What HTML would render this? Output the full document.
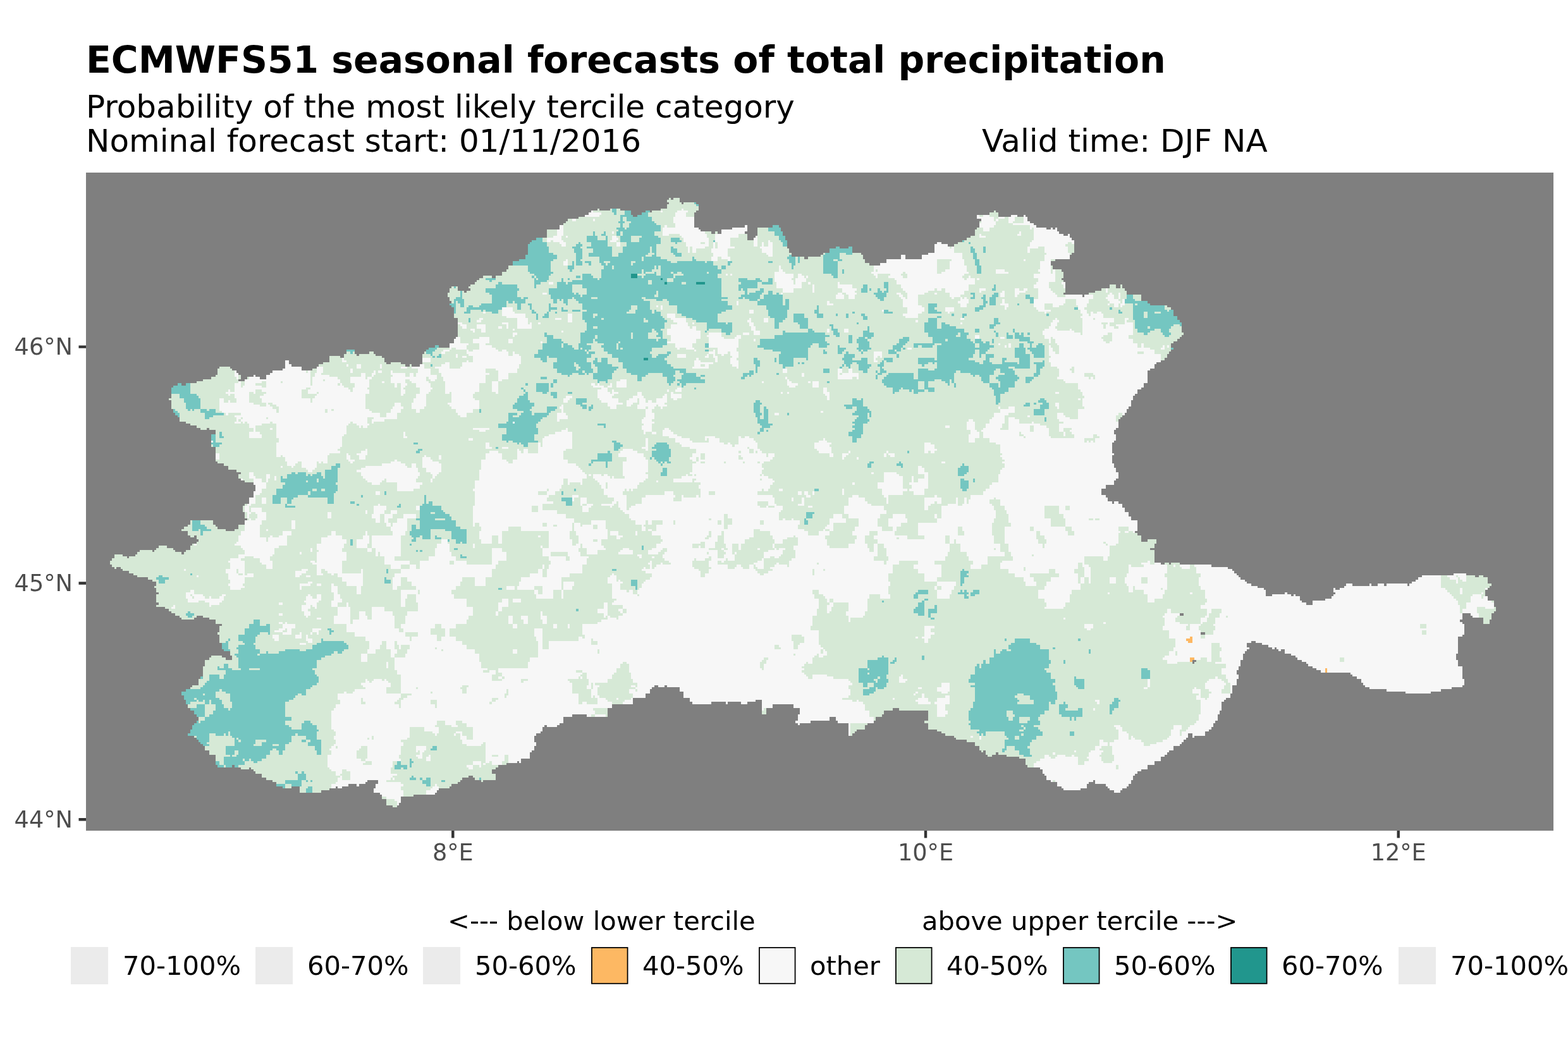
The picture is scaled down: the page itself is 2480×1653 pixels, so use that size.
<!DOCTYPE html>
<html lang="en">
<head>
<meta charset="utf-8">
<title>ECMWFS51 seasonal forecasts of total precipitation</title>
<style>
html,body{margin:0;padding:0;background:#fff;}
body{width:2480px;height:1653px;overflow:hidden;}
svg{display:block;}
text{font-family:"DejaVu Sans","Liberation Sans",sans-serif;}
.title{font-weight:bold;font-size:58.33px;fill:#000;}
.sub{font-size:50px;fill:#000;white-space:pre;}
.ax{font-size:36.67px;fill:#4d4d4d;}
.lg{font-size:41.67px;fill:#000;}
.lt{font-size:41.67px;fill:#000;}
.tick{stroke:#333;stroke-width:4.45;fill:none;}
.key{stroke:#000;stroke-width:1.78;}
</style>
</head>
<body>
<svg xmlns="http://www.w3.org/2000/svg" width="2480" height="1653" viewBox="0 0 2480 1653">
<rect x="0" y="0" width="2480" height="1653" fill="#ffffff"/>
<text class="title" x="136" y="115.3">ECMWFS51 seasonal forecasts of total precipitation</text>
<text class="sub" x="136" y="186">Probability of the most likely tercile category</text>
<text class="sub" x="136" y="240">Nominal forecast start: 01/11/2016</text>
<text class="sub" x="1553" y="240">Valid time: DJF NA</text>
<rect x="136" y="273" width="2321" height="1041" fill="#7f7f7f"/>
<g shape-rendering="crispEdges" fill-rule="evenodd">
<path fill="#d6e9d6" d="M538 563H521V573H511V576H504V580H501V583H494V586H477V580H461V576H457V570H451V583H447V586H431V590H427V593H421V600H411V596H404V593H401V596H391V600H387V603H377V600H381V593H377V590H374V586H367V583H364V580H347V583H344V593H341V596H334V600H321V603H311V606H294V610H287V606H281V610H274V613H271V630H267V633H271V647H274V653H277V657H281V660H284V667H294V670H301V673H311V677H317V680H327V677H331V680H341V687H334V707H341V730H344V733H354V737H361V743H374V747H381V750H377V757H381V760H387V763H401V767H404V777H401V787H394V797H387V800H384V810H387V820H391V823H387V830H377V837H371V840H357V837H344V833H341V830H337V823H301V830H297V833H291V837H287V840H297V847H301V850H307V847H311V853H314V857H311V860H304V863H301V870H294V873H291V877H287V873H277V870H274V867H264V863H251V867H247V870H244V873H241V870H221V873H217V877H214V880H204V883H201V880H194V877H181V883H177V887H174V893H177V897H181V900H184V897H191V900H194V903H204V907H211V910H217V913H234V917H241V920H247V927H244V930H247V937H251V940H247V953H251V957H247V960H261V963H267V967H271V970H277V974H284V977H287V980H307V977H311V974H321V977H331V980H341V987H351V990H347V1000H344V1004H347V1017H351V1027H354V1030H364V1037H367V1044H357V1040H351V1037H334V1040H331V1044H324V1054H321V1070H317V1074H314V1084H304V1087H301V1090H294V1094H287V1100H291V1107H294V1114H297V1120H301V1124H307V1130H311V1134H314V1140H311V1144H307V1147H304V1154H301V1160H297V1164H307V1167H311V1170H314V1174H317V1177H321V1180H324V1187H331V1194H341V1210H344V1214H367V1210H371V1214H381V1217H394V1214H397V1217H401V1220H404V1224H414V1230H421V1234H431V1237H437V1244H447V1247H461V1244H474V1254H508V1250H521V1247H531V1244H534V1247H541V1244H551V1240H564V1244H568V1240H578V1237H581V1234H598V1240H594V1247H591V1254H601V1257H604V1264H611V1274H621V1277H628V1274H631V1270H634V1260H654V1257H688V1254H691V1250H694V1247H711V1244H714V1240H724V1237H728V1234H731V1230H741V1227H748V1230H751V1234H761V1237H764V1234H784V1224H778V1217H784V1214H788V1210H801V1207H818V1204H821V1207H824V1200H838V1190H841V1187H845V1180H848V1174H845V1164H848V1160H855V1157H858V1150H861V1147H865V1150H881V1147H885V1144H891V1134H905V1130H928V1134H961V1120H968V1114H1001V1104H1021V1097H1028V1090H1031V1087H1035V1084H1041V1087H1051V1084H1055V1087H1075V1094H1081V1104H1091V1110H1095V1114H1125V1110H1148V1114H1151V1110H1172V1114H1182V1110H1195V1107H1205V1130H1212V1120H1222V1114H1255V1120H1265V1130H1262V1140H1258V1144H1262V1147H1265V1144H1282V1140H1312V1134H1322V1140H1325V1144H1342V1164H1348V1160H1352V1157H1355V1154H1368V1147H1372V1144H1382V1140H1385V1134H1395V1130H1398V1124H1412V1120H1422V1124H1468V1140H1462V1144H1468V1154H1482V1157H1489V1160H1495V1164H1509V1167H1512V1170H1529V1174H1542V1180H1549V1187H1552V1190H1555V1187H1559V1194H1562V1197H1569V1194H1575V1190H1579V1194H1592V1197H1612V1200H1622V1210H1625V1214H1645V1217H1649V1224H1652V1227H1655V1234H1662V1237H1672V1244H1679V1247H1682V1250H1709V1247H1719V1240H1722V1237H1729V1234H1732V1240H1749V1244H1752V1247H1755V1250H1762V1254H1772V1250H1775V1247H1782V1244H1785V1240H1789V1234H1792V1227H1795V1224H1799V1220H1805V1217H1815V1210H1826V1204H1836V1197H1842V1194H1846V1190H1849V1187H1856V1180H1866V1177H1869V1174H1872V1170H1876V1167H1879V1160H1886V1167H1889V1164H1906V1157H1912V1154H1916V1150H1919V1144H1922V1140H1926V1130H1929V1124H1932V1110H1936V1107H1939V1104H1946V1097H1949V1084H1956V1074H1959V1067H1956V1060H1959V1054H1962V1044H1966V1034H1969V1030H1972V1027H1976V1024H1972V1017H1979V1014H1986V1017H1996V1020H2006V1024H2012V1027H2016V1024H2019V1027H2022V1030H2026V1027H2032V1034H2042V1037H2049V1040H2052V1044H2059V1047H2066V1050H2069V1054H2076V1057H2082V1060H2089V1064H2136V1067H2139V1070H2146V1074H2153V1080H2156V1084H2159V1087H2166V1090H2193V1094H2223V1097H2263V1094H2279V1090H2296V1087H2313V1084H2316V1074H2313V1054H2306V1044H2303V1034H2306V1007H2313V1004H2316V987H2313V984H2309V980H2313V970H2326V974H2329V977H2346V987H2356V980H2359V970H2363V967H2366V960H2363V950H2353V943H2349V933H2353V930H2356V927H2359V923H2353V913H2346V910H2339V913H2333V910H2319V907H2299V910H2249V913H2243V917H2239V920H2233V923H2229V927H2226V923H2193V927H2189V923H2179V927H2169V923H2166V927H2139V923H2129V927H2126V930H2119V933H2112V930H2109V937H2112V940H2109V943H2106V947H2096V950H2076V957H2066V953H2059V950H2056V943H2049V940H2046V943H2042V940H2036V937H2032V940H2012V943H2002V933H1999V930H1989V927H1979V923H1972V920H1969V917H1962V913H1959V910H1956V907H1952V903H1949V900H1942V897H1916V893H1866V890H1852V893H1849V890H1842V893H1836V890H1826V870H1819V867H1826V860H1829V853H1815V857H1805V847H1799V843H1795V840H1799V823H1789V817H1785V810H1779V803H1775V797H1769V793H1762V797H1759V793H1752V787H1749V783H1742V773H1749V767H1762V760H1765V757H1769V747H1765V740H1762V733H1759V720H1762V717H1759V700H1762V697H1765V687H1762V680H1765V677H1769V663H1772V660H1775V657H1779V653H1782V647H1785V643H1789V633H1792V626H1795V623H1799V616H1805V613H1809V606H1815V586H1819V583H1826V576H1829V573H1836V570H1842V566H1846V560H1849V556H1852V553H1856V550H1852V543H1856V540H1862V536H1866V533H1869V530H1872V526H1869V510H1866V506H1862V500H1856V490H1852V486H1846V483H1819V480H1815V476H1805V466H1782V460H1779V456H1775V450H1772V456H1765V450H1755V456H1742V460H1732V463H1722V466H1715V470H1712V466H1682V463H1685V446H1682V443H1679V440H1682V430H1679V426H1665V420H1662V413H1669V410H1692V403H1695V400H1699V380H1695V376H1692V370H1689V373H1682V370H1675V366H1672V360H1669V363H1665V360H1662V363H1655V360H1639V356H1635V353H1629V350H1625V343H1622V340H1619V343H1609V340H1599V343H1579V336H1575V333H1572V336H1565V340H1545V346H1552V350H1549V360H1545V363H1542V373H1535V376H1529V380H1522V383H1515V386H1509V390H1499V386H1489V383H1482V386H1478V400H1468V403H1458V410H1432V403H1425V410H1402V416H1392V420H1375V416H1368V410H1365V403H1362V400H1348V390H1342V393H1328V390H1322V393H1312V400H1302V403H1298V406H1278V410H1272V406H1252V400H1248V393H1245V380H1242V373H1238V366H1235V360H1232V356H1222V360H1198V373H1195V376H1192V380H1182V370H1178V366H1182V356H1178V360H1158V363H1141V370H1135V366H1131V370H1125V366H1108V363H1105V360H1098V336H1101V333H1105V323H1101V320H1081V323H1078V320H1075V313H1065V316H1061V313H1058V316H1055V320H1058V323H1055V330H1045V333H1031V336H1028V333H1021V336H1015V340H1008V343H1001V340H998V333H981V330H965V333H948V330H945V333H935V336H931V340H925V343H915V346H898V350H895V353H891V356H885V363H865V376H848V380H841V383H838V386H835V403H831V410H821V413H811V420H804V426H801V430H794V436H784V440H778V436H764V440H758V443H754V446H751V450H744V453H741V456H744V460H738V463H734V460H724V453H714V456H711V463H708V470H711V476H714V480H711V483H714V486H718V503H724V533H721V536H718V543H711V550H694V546H688V550H678V553H674V556H671V560H668V576H664V580H651V576H648V580H641V576H634V573H618V576H611V573H608V566H604V563H594V560H591V556H584V560H568V563H564V560H561V553H548V560H544V566H538ZM1866 970H1872V974H1866ZM1886 1050V1044H1892V1047H1889V1050ZM1899 1000H1906V1004H1899Z"/>
<path fill="#f7f7f7" d="M451 570V583H447V586H431V590H427V593H421V600H411V596H404V593H401V596H394V600H387V610H384V613H381V603H377V606H371V620H364V616H361V620H357V623H361V626H364V623H371V630H374V637H364V633H361V637H354V630H347V650H351V653H357V657H361V653H381V657H371V660H374V667H371V670H381V667H384V670H387V667H391V670H394V677H401V683H394V693H414V687H411V683H404V673H414V670H427V667H431V670H437V693H441V700H437V723H444V720H447V723H451V730H454V737H461V740H464V737H467V733H471V730H477V740H484V743H487V747H494V743H498V740H501V730H504V733H508V730H511V733H518V720H521V717H538V713H534V710H538V707H541V690H544V687H548V673H551V670H554V667H558V670H564V673H568V677H571V673H574V677H581V673H584V670H581V660H591V663H588V670H591V667H608V663H628V653H634V647H638V643H634V637H624V643H621V647H618V653H611V660H601V653H588V650H584V647H578V623H584V616H581V613H584V600H588V596H581V600H578V590H571V596H554V606H561V613H558V620H554V616H551V613H544V610H541V606H538V600H534V596H521V593H508V590H511V580H501V590H498V596H494V610H491V586H487V590H484V586H477V580H461V576H457V570ZM377 667V663H381V667ZM381 660H384V663H381ZM538 610H534V606H538ZM431 643H427V640H424V637H431V640H437V643H441V653H437V647H431ZM477 630V616H484V613H491V616H487V623H501V626H498V630H494V637H491V630ZM501 620H504V623H501ZM404 606H414V603H421V613H414V610H404ZM444 606V603H447V606ZM404 616H414V620H421V623H417V626H411V630H414V637H421V643H411V640H401V637H394V620H401V623H404ZM421 663V660H424V663ZM514 600V603H511V600ZM518 647V653H514V647ZM524 647H528V650H524ZM374 590V586H371V596H374V600H377V590ZM431 680V677H427V680ZM337 700V697H334V700ZM341 717V727H347V717ZM447 737H444V740H447ZM404 767V777H401V787H394V797H391V800H387V810H391V820H394V813H397V810H394V800H397V797H404V783H411V780H414V773H421V763H414V757H404V753H401V747H394V757H401V767ZM427 757V750H421V763H424V757ZM434 753V760H437V753ZM384 757H381V760H384ZM414 787V797H421V787ZM404 820V823H397V820H394V823H387V840H381V847H377V857H374V860H371V863H381V867H384V870H387V877H377V883H364V887H361V890H364V900H357V907H361V917H364V923H361V927H364V933H381V930H387V927H384V923H387V913H401V907H391V910H387V887H381V883H387V880H401V883H411V890H414V893H421V900H431V887H427V880H431V877H434V867H441V863H454V847H461V840H447V847H441V850H431V847H427V850H424V857H421V850H411V830H414V823H421V810H414V803H397V810H404V813H407V820ZM377 900V907H374V900ZM384 907V910H377V907ZM424 840V837H421V840ZM311 863V860H307V863ZM294 903V900H291V903ZM314 910H311V913H314ZM314 953V950H324V953H331V960H334V957H347V953H351V950H354V943H357V940H351V943H347V947H334V943H331V947H324V943H321V940H307V933H301V937H294V947H297V953ZM304 947V943H307V947ZM301 943V940H304V943ZM447 957V953H441V957ZM274 957V960H271V963H277V957ZM447 970H441V974H447ZM447 984H441V987H447ZM447 987V994H441V997H434V1000H447V1004H461V994H467V987H454V984H451V987ZM447 997H451V994H454V1000H447ZM431 1004V1010H434V1014H441V1004ZM541 573H548V570H544V566H541ZM524 820V810H518V820ZM467 837V823H461V837ZM501 860V870H504V873H501V890H498V887H491V890H494V893H501V910H511V907H508V900H514V903H518V907H524V910H528V907H534V913H541V920H548V927H564V940H571V927H574V900H571V907H541V887H548V873H541V867H544V860H548V853H541V847H531V840H524V847H518V850H508V860ZM494 873V867H491V873ZM477 873H474V877H477ZM477 910V907H484V903H487V900H477V903H467V913H474V910ZM491 910H484V913H491ZM477 927H491V923H494V920H487V923H474V933H477ZM508 923H501V927H508ZM528 950H524V960H534V953H541V947H538V940H534V927H528V923H524V937H528ZM484 943V950H481V953H484V957H477V967H481V974H484V977H487V974H491V967H487V963H491V957H494V960H498V963H501V953H504V950H508V940H501V947H494V943H491V940H487V943ZM534 960V974H528V987H548V1000H561V1007H578V1014H584V1027H581V1034H594V1027H601V1020H604V1014H611V1027H618V1040H624V1060H628V1067H634V1097H611V1087H618V1080H614V1077H611V1074H608V1077H604V1074H591V1077H588V1080H584V1077H581V1074H578V1080H571V1084H574V1087H578V1090H561V1094H558V1097H548V1094H544V1097H534V1107H538V1114H531V1120H528V1124H524V1154H528V1157H531V1164H528V1170H531V1177H528V1180H524V1184H521V1187H524V1194H518V1214H521V1217H524V1220H531V1227H538V1230H534V1237H531V1240H524V1247H531V1244H534V1247H541V1244H551V1240H564V1244H568V1240H578V1237H581V1234H598V1240H594V1247H591V1254H601V1257H604V1260H611V1264H624V1267H628V1274H631V1270H634V1260H638V1250H634V1244H638V1240H634V1237H611V1234H618V1230H621V1227H628V1224H618V1214H621V1204H634V1200H631V1194H634V1180H638V1174H634V1170H644V1167H648V1150H671V1157H684V1160H688V1164H691V1160H694V1150H688V1147H691V1140H704V1147H714V1150H724V1147H721V1140H731V1144H738V1150H748V1170H738V1164H731V1157H721V1160H728V1170H731V1177H738V1180H761V1177H764V1174H768V1207H774V1204H778V1210H794V1204H798V1194H804V1207H818V1204H821V1207H824V1200H838V1190H841V1187H845V1180H848V1174H845V1164H848V1160H855V1157H858V1150H861V1147H865V1150H881V1147H885V1144H891V1134H905V1130H928V1134H935V1130H941V1124H938V1120H968V1110H961V1107H958V1104H948V1100H945V1087H948V1084H941V1080H961V1074H968V1067H971V1064H975V1057H981V1050H985V1047H991V1050H995V1064H998V1074H1001V1080H1008V1087H1005V1090H995V1097H1001V1104H1021V1097H1028V1090H1031V1087H1035V1084H1041V1087H1051V1084H1055V1087H1075V1094H1081V1104H1091V1110H1095V1114H1125V1110H1148V1114H1151V1110H1172V1114H1182V1110H1195V1107H1205V1124H1208V1120H1222V1114H1255V1120H1265V1130H1262V1140H1258V1144H1262V1147H1265V1144H1282V1140H1312V1134H1322V1140H1325V1144H1342V1164H1345V1144H1382V1134H1375V1124H1368V1114H1365V1110H1358V1107H1355V1110H1348V1107H1332V1104H1342V1100H1345V1090H1342V1084H1348V1080H1345V1077H1342V1074H1318V1070H1308V1067H1285V1074H1278V1070H1275V1067H1272V1064H1268V1060H1272V1057H1268V1054H1272V1050H1275V1047H1278V1050H1285V1040H1288V1037H1292V1034H1295V1040H1302V1037H1308V1030H1305V1027H1302V1024H1298V1020H1295V997H1282V990H1285V974H1292V963H1295V947H1288V940H1285V933H1295V940H1302V943H1305V947H1308V953H1312V947H1318V953H1342V967H1338V974H1342V984H1345V977H1365V974H1368V967H1372V947H1375V940H1392V947H1408V940H1405V927H1408V920H1405V907H1412V893H1422V887H1452V893H1445V900H1452V907H1462V920H1482V913H1489V893H1478V887H1495V880H1499V873H1502V860H1509V853H1512V860H1519V873H1529V880H1532V887H1539V893H1535V900H1552V893H1562V880H1589V873H1582V860H1572V847H1569V827H1572V820H1575V807H1572V800H1569V797H1565V790H1572V787H1575V790H1582V800H1589V807H1592V813H1595V827H1599V833H1589V860H1595V873H1599V880H1602V887H1585V890H1582V900H1595V907H1605V913H1619V920H1622V927H1639V920H1635V913H1629V907H1659V900H1669V907H1675V913H1662V920H1655V927H1652V933H1642V947H1652V953H1655V960H1652V963H1682V960H1685V953H1692V940H1695V933H1709V923H1705V907H1699V900H1705V890H1712V897H1715V913H1722V923H1725V897H1722V893H1715V880H1745V887H1752V880H1755V863H1765V860H1769V843H1772V840H1769V833H1785V840H1792V843H1795V840H1799V823H1789V817H1785V810H1779V803H1775V797H1769V793H1762V797H1759V793H1752V787H1749V783H1742V773H1749V767H1762V760H1765V757H1769V747H1765V740H1762V733H1759V720H1762V717H1759V700H1762V697H1765V687H1762V680H1765V677H1769V667H1765V657H1769V653H1775V657H1779V653H1782V647H1785V643H1789V633H1792V626H1795V623H1799V616H1805V613H1809V606H1815V586H1819V583H1826V576H1829V573H1836V560H1826V553H1819V550H1809V543H1805V550H1799V543H1792V536H1785V530H1792V510H1782V506H1785V503H1779V513H1765V516H1769V520H1762V516H1755V510H1762V503H1745V496H1742V493H1735V496H1729V493H1725V500H1722V496H1719V490H1715V486H1719V480H1722V473H1729V466H1715V470H1712V466H1685V470H1672V466H1669V463H1665V460H1662V456H1659V446H1669V426H1665V433H1662V410H1692V400H1689V390H1685V386H1689V383H1695V386H1699V380H1695V376H1692V370H1689V373H1682V370H1675V366H1672V360H1669V363H1665V360H1662V363H1655V360H1639V356H1635V353H1629V350H1625V343H1622V340H1619V353H1602V356H1629V363H1632V360H1635V380H1632V383H1629V390H1625V400H1629V393H1642V390H1652V400H1655V403H1652V413H1645V426H1642V430H1645V433H1635V440H1642V446H1639V450H1635V456H1642V473H1635V486H1639V490H1642V493H1652V496H1655V493H1662V490H1652V480H1665V486H1675V483H1682V480H1685V473H1702V483H1705V490H1709V496H1712V500H1709V503H1712V530H1709V526H1699V523H1695V520H1692V523H1672V520H1669V516H1672V510H1675V506H1672V503H1669V506H1665V510H1662V516H1659V520H1652V523H1649V530H1652V536H1659V543H1662V533H1665V536H1669V543H1672V546H1675V560H1669V556H1665V550H1662V546H1659V563H1662V566H1659V573H1662V580H1672V583H1675V596H1672V600H1682V603H1685V606H1705V616H1709V620H1712V626H1715V630H1712V643H1715V647H1705V663H1692V660H1685V657H1682V653H1672V663H1675V667H1682V670H1675V683H1682V677H1695V680H1692V683H1695V687H1699V693H1662V690H1659V677H1655V673H1645V670H1635V667H1632V670H1612V663H1605V660H1595V680H1582V677H1585V670H1589V657H1595V653H1605V643H1595V647H1582V653H1572V660H1569V663H1565V670H1559V677H1555V680H1552V683H1555V693H1565V700H1575V703H1582V717H1585V720H1582V723H1585V727H1589V730H1585V733H1589V740H1585V743H1582V750H1579V763H1569V767H1565V773H1559V777H1555V783H1535V790H1532V797H1529V787H1525V797H1522V800H1515V787H1512V797H1499V800H1489V820H1482V827H1452V847H1462V853H1435V847H1415V840H1418V833H1425V827H1435V820H1432V813H1412V820H1405V833H1412V840H1395V833H1388V820H1392V813H1402V807H1398V800H1378V797H1372V793H1368V787H1358V783H1348V787H1342V800H1335V813H1342V820H1358V833H1352V840H1348V847H1355V853H1352V860H1342V867H1312V863H1308V853H1305V847H1312V840H1305V837H1302V840H1295V847H1278V840H1272V837H1262V830H1265V823H1255V820H1252V823H1242V820H1238V823H1232V810H1235V807H1238V800H1228V797H1225V787H1222V783H1198V777H1205V773H1208V777H1215V773H1218V767H1222V763H1225V760H1222V757H1215V753H1208V750H1205V743H1208V740H1205V733H1208V730H1218V727H1222V723H1225V717H1215V723H1212V717H1205V713H1202V710H1198V700H1195V697H1192V693H1185V690H1178V693H1172V690H1168V703H1162V707H1158V703H1155V700H1151V703H1145V700H1138V693H1131V690H1115V697H1118V693H1121V700H1095V697H1091V693H1078V690H1071V687H1065V683H1061V680H1058V677H1051V680H1048V690H1058V693H1068V700H1075V703H1078V707H1091V710H1101V717H1095V723H1091V727H1095V730H1101V733H1095V747H1091V750H1095V753H1088V750H1085V753H1078V757H1065V763H1095V757H1101V760H1098V763H1108V767H1105V773H1108V787H1105V783H1101V787H1081V783H1078V793H1065V787H1068V783H1065V777H1051V783H1021V787H1015V797H1005V800H998V803H995V807H991V783H985V777H988V773H991V777H995V773H998V777H1001V773H1008V767H1011V763H1018V760H1021V757H1025V750H1021V747H1025V727H1021V723H1018V717H1008V713H1001V710H985V713H981V717H978V723H991V730H985V753H988V757H971V753H968V757H965V753H961V750H955V753H951V750H938V757H941V760H945V763H948V767H951V773H955V783H961V787H971V793H968V797H951V800H965V803H968V800H971V797H975V793H978V803H981V807H985V810H988V813H995V820H998V823H1005V830H1015V840H1021V833H1018V830H1021V823H1025V830H1031V823H1048V830H1038V840H1031V847H1045V853H1048V857H1045V860H1038V867H1031V870H1025V877H1041V873H1045V870H1048V867H1055V873H1051V877H1048V883H1051V887H1058V890H1061V893H1048V890H1045V893H1038V897H1035V900H1031V887H1028V890H1025V893H1028V900H1021V897H1018V900H1015V903H1021V907H1031V913H1028V917H1021V920H1018V923H1015V930H1011V933H1008V940H1001V933H995V937H991V933H981V923H985V920H981V917H978V920H975V910H971V907H968V910H965V913H961V923H968V947H975V950H971V953H968V957H985V963H991V970H985V974H978V980H975V977H965V974H961V980H951V984H945V987H921V1004H925V1010H921V1007H915V1014H868V1027H858V994H845V1007H848V1014H851V1040H838V1047H835V1057H788V1064H794V1070H798V1074H794V1077H778V1067H784V1060H774V1064H764V1060H771V1057H761V1047H758V1034H751V1027H738V1020H731V1014H721V1007H711V994H721V987H738V980H741V974H748V960H738V947H718V940H714V933H721V927H728V920H731V913H751V927H768V913H778V900H784V893H788V887H801V873H794V867H778V893H738V887H721V880H714V873H711V860H708V853H698V860H691V867H688V880H678V887H664V900H658V893H648V900H634V907H624V913H621V933H628V927H634V913H644V920H651V927H658V933H634V960H641V947H644V940H658V953H661V967H644V974H641V987H634V994H638V1000H631V994H624V974H621V967H608V960H588V980H581V974H578V967H568V980H558V987H554V960H551V953H548V960ZM624 1040V1034H628V1027H624V1014H628V1020H631V1027H634V1020H648V1027H644V1034H641V1040ZM651 1097V1100H644V1104H638V1107H634V1120H631V1114H624V1110H628V1107H631V1104H634V1097ZM538 1224H541V1217H548V1220H554V1234H541V1227H538ZM1008 1090V1094H1005V1090ZM1302 1027V1034H1298V1027ZM1495 860V847H1502V860ZM1205 753H1202V750H1205ZM1101 730V723H1105V730ZM1011 940V943H1008V940ZM1205 1057H1202V1047H1205V1044H1208V1040H1215V1044H1212V1050H1208V1060H1205ZM1255 1037V1034H1258V1037ZM945 1034V1027H948V1034ZM1225 1027V1020H1232V1024H1235V1027ZM1255 1027V1014H1252V1004H1268V1007H1272V1017H1265V1020H1262V1027ZM691 1014V1004H681V994H688V987H698V994H704V1007H698V1014ZM661 1000V1007H651V1014H648V1007H641V1000ZM534 1184H531V1180H534ZM564 1200V1187H568V1184H571V1180H581V1200H578V1204H571V1200ZM588 1204V1210H574V1207H578V1204ZM591 1164V1170H588V1164ZM584 1170H581V1167H584ZM571 1114V1104H574V1110H578V1114ZM718 887V893H711V887ZM661 933H664V940H661ZM688 1024H691V1027H688ZM701 1027V1030H698V1027ZM661 1087V1090H658V1087ZM684 1094V1097H681V1094ZM681 1114V1107H691V1120H688V1114ZM921 1110V1114H915V1097H905V1080H901V1077H898V1074H915V1070H918V1067H921V1064H928V1074H931V1084H928V1090H935V1104H938V1100H941V1104H945V1114H928V1110ZM911 1064V1060H921V1064ZM935 1090V1080H938V1090ZM778 1110V1114H774V1110ZM778 1110V1104H788V1107H784V1110ZM801 1097V1090H804V1100H801V1104H798V1097ZM824 1074H835V1077H828V1080H824ZM728 1090V1087H731V1084H741V1087H738V1097H731V1090ZM788 1194V1197H778V1194ZM938 1014H945V1020H935V1010H938ZM958 773V763H961V773ZM1108 727V717H1115V727ZM1098 750H1101V753H1098ZM1202 800H1198V793H1215V800H1212V803H1202ZM1225 800V803H1215V800ZM1145 837V813H1151V820H1158V830H1151V837ZM1135 830V823H1141V830ZM1065 830V823H1068V830ZM1121 820H1125V823H1121ZM1108 913V903H1105V900H1098V897H1095V887H1098V883H1101V887H1115V883H1121V880H1125V887H1121V897H1125V900H1121V907H1115V913ZM1135 883V870H1121V867H1131V857H1135V847H1141V840H1145V860H1148V867H1151V870H1145V873H1148V877H1145V883ZM1118 877V873H1121V877ZM1108 867V863H1105V867H1095V860H1108V857H1115V867ZM1115 853V850H1118V847H1121V840H1125V850H1121V853ZM1515 847V833H1522V840H1525V847ZM1285 910V900H1288V910ZM1215 907H1208V910H1202V907H1198V903H1195V900H1192V893H1185V900H1175V897H1172V893H1165V897H1162V900H1151V893H1135V887H1141V890H1145V887H1148V883H1151V887H1162V877H1158V860H1168V870H1172V860H1178V853H1185V850H1192V837H1202V840H1218V847H1222V853H1225V860H1238V853H1245V850H1255V847H1258V850H1262V863H1255V870H1258V883H1252V887H1248V897H1245V893H1232V890H1228V893H1225V897H1218V900H1222V903H1215ZM1205 760H1202V757H1205ZM1202 733H1198V730H1202ZM1178 733H1175V730H1178ZM1172 720V723H1175V727H1168V720ZM1198 717H1195V713H1198ZM1192 710V717H1185V710ZM1182 710V707H1185V710ZM1172 717H1168V713H1172ZM1131 783H1121V777H1131ZM1115 730V733H1108V730ZM1145 730H1148V733H1145ZM1208 830H1202V823H1208ZM1295 893H1292V890H1295ZM1382 887V880H1388V860H1398V867H1402V880H1405V887H1402V893H1398V887ZM1382 860V873H1375V867H1372V860H1368V847H1375V840H1388V847H1382V853H1388V860ZM1302 903V900H1305V903ZM1422 850V853H1418V850ZM1752 860V863H1749V860ZM1745 860V857H1749V860ZM1739 820V823H1732V820ZM1725 700H1722V697H1719V700H1715V693H1729V687H1735V690H1739V693H1732V700H1729V697H1725ZM1619 690H1622V693H1619ZM1612 690V683H1615V687H1619V690ZM1635 673V683H1629V673ZM1575 870H1572V867H1575ZM1635 840H1629V833H1635ZM1622 903H1619V897H1622ZM1632 880V877H1635V880ZM1642 860V853H1639V840H1645V847H1652V853H1655V860H1652V867H1649V860ZM1685 833H1695V840H1699V847H1689V840H1685ZM1662 833V820H1652V800H1675V813H1682V820H1685V833ZM1692 807H1685V800H1692ZM1729 820V823H1722V820ZM1725 596V600H1722V596H1715V590H1729V593H1732V600H1729V596ZM1692 586V583H1695V580H1699V590H1695V586ZM1809 556V560H1799V556ZM1745 540V536H1742V533H1745V530H1752V526H1759V540H1755V543H1749V540ZM1745 513H1742V510H1752V513H1749V520H1745ZM1729 503H1732V506H1729ZM508 977H501V980H508ZM504 997H508V994H494V1000H501V1004H504ZM477 1010V1000H474V1004H467V1010ZM494 1000H491V1004H494ZM494 1010H487V1004H484V1014H487V1017H494ZM484 1020V1017H474V1020ZM564 583H571V576H564ZM601 583H604V576H601ZM551 580V576H548V580ZM558 590V583H554V590ZM604 586H598V590H604ZM594 586H591V590H588V596H591V593H594ZM608 603H604V606H608ZM578 727V720H581V710H578V713H571V717H564V720H568V727ZM558 730H561V727H554V720H551V717H548V727H551V730H554V733H558ZM611 757V763H628V777H654V773H664V767H668V763H658V757H661V753H664V747H661V740H658V733H651V740H644V737H641V733H634V730H628V727H624V730H618V733H604V737H578V740H571V743H564V747H571V753H574V757H578V760H581V763H588V767H601V763H604V760H608V757ZM601 783V777H594V783ZM588 820H594V827H601V813H608V807H611V800H601V797H598V800H591V813H588ZM581 813V807H578V813ZM611 827V833H618V827H614V820H621V813H628V807H618V813H608V827ZM564 867H581V860H584V847H581V840H578V847H574V853H564ZM588 847V867H594V880H598V873H601V880H608V893H618V900H634V893H648V887H624V880H634V847H641V840H644V820H658V813H638V820H628V827H621V833H618V840H621V847ZM588 873V867H581V873ZM581 1047V1034H571V1047ZM681 573V566H668V573ZM658 590V596H654V590H648V596H641V590H621V586H618V593H621V596H618V606H624V613H628V606H634V626H638V623H641V616H638V613H641V610H644V606H641V600H648V603H651V606H658V613H664V623H658V630H654V637H651V647H658V653H664V647H671V643H674V623H678V620H681V616H684V613H681V606H678V603H674V596H678V600H681V603H688V600H691V593H681V583H671V576H664V580H651V583H661V590ZM644 580H634V583H644ZM638 683V693H644V690H641V683ZM681 727V723H674V720H671V723H668V740H674V747H681V750H684V757H688V753H691V750H694V747H698V733H694V730H684V727ZM664 807V800H658V807ZM611 1047V1057H614V1047ZM658 1194V1197H661V1200H668V1190H671V1187H674V1180H658V1190H661V1187H664V1194ZM678 1197H674V1204H681V1194H678ZM624 1234V1230H621V1234ZM761 510V506H764V503H758V506H754V510ZM731 510H724V513H728V516H731V520H738V513H731ZM761 520V526H768V513H754V520ZM744 520V523H748V526H751V520ZM711 553H714V550H721V553H738V546H741V543H728V533H721V536H718V543H711ZM774 533H758V536H748V543H758V553H748V556H741V553H738V560H741V563H748V573H741V570H738V573H731V580H728V583H711V573H704V576H698V580H688V583H694V590H698V596H701V603H704V623H711V620H714V637H708V640H711V643H714V647H721V653H724V657H728V660H738V653H748V647H758V633H751V630H748V623H751V620H758V606H768V593H774V590H768V583H784V586H788V603H794V600H804V590H818V583H821V576H824V563H821V560H814V556H811V563H804V556H801V553H794V556H788V553H784V550H778V546H768V543H774ZM701 553V556H698V560H704V556H711V553ZM721 560V566H724V560ZM738 566V563H731V566ZM748 693H741V697H748ZM694 727H698V720H694ZM684 763V757H681V763ZM751 833V827H758V833H761V840H758V853H761V860H778V847H788V860H794V840H804V833H824V840H868V867H858V880H868V887H871V893H868V900H865V913H858V900H851V907H838V913H824V920H821V927H818V933H845V940H848V947H875V933H888V913H901V907H921V893H928V883H931V880H918V873H915V867H918V860H921V867H928V877H945V870H958V867H955V863H951V853H961V837H958V823H935V830H921V833H918V827H908V820H895V813H881V807H858V797H875V793H865V787H868V783H878V777H885V773H888V767H891V757H898V767H901V763H918V767H921V757H928V750H925V747H921V743H918V740H915V737H911V733H898V727H891V713H895V710H905V683H898V677H895V680H888V683H878V687H868V690H861V693H858V707H855V700H851V717H835V710H828V717H824V713H821V710H818V727H811V733H804V730H801V727H794V717H788V713H774V717H768V727H761V743H758V760H751V773H748V777H751V800H748V833ZM845 933V927H858V940H851V933ZM908 827V840H911V847H915V860H911V863H905V853H901V840H905V827ZM895 880H871V873H898V880H901V887H895ZM865 827V833H858V827ZM841 800H851V810H841ZM865 777V783H851V777ZM865 773H868V777H865ZM881 833H875V830H881ZM945 830V837H938V830ZM945 853V857H938V853ZM748 860V867H751V860ZM721 1164V1160H718V1164ZM761 1214V1204H748V1210H758V1214ZM748 1217V1210H738V1214H741V1217ZM688 1254H691V1250H694V1244H691V1240H688V1244H684V1247H681V1250H674V1257H688ZM818 503V520H841V510H838V513H835V503H831V496H814V493H811V486H794V500H801V503ZM768 496V493H764V496ZM801 513V520H804V510H794V513ZM794 516H788V520H794ZM814 520H811V523H814ZM811 533H814V530H818V526H811ZM804 543H811V536H804ZM788 623V603H778V620H784V623ZM814 670V667H811V670ZM748 680H758V683H768V680H774V677H748ZM768 700V710H778V707H774V700ZM804 707H794V710H804ZM801 927V933H814V927ZM811 953H824V947H811ZM794 967V960H804V947H794V953H788V967ZM788 974V967H784V974ZM835 987V974H824V980H828V987ZM811 974H804V987H811ZM818 994V987H811V994ZM811 1034H818V1027H811ZM794 1070H788V1074H794ZM768 1207H764V1210H768ZM911 350V346H905V350ZM865 376V383H871V380H875V383H885V386H888V390H895V383H891V380H888V373H891V356H885V363H881V373H875V376ZM898 376V373H895V376ZM895 410V413H891V420H898V410ZM875 450V446H868V450ZM865 463H858V466H865ZM905 510V496H898V510ZM888 503H878V506H888ZM855 510H851V513H855ZM891 526V523H888V526ZM858 540H855V543H858ZM901 633V630H905V626H895V630H891V637H898V633ZM885 647H888V653H881V667H885V663H898V657H895V653H891V640H888V643H885ZM905 783V793H908V787H915V783ZM855 847H851V850H855ZM858 863H855V867H858ZM858 893V900H861V893ZM908 927V920H891V933H905V927ZM888 933V947H891V933ZM865 987V974H858V967H855V980H858V987ZM875 987V994H881V987ZM898 987V994H901V987ZM938 336V333H935V336H931V340H925V343H948V340H951V336ZM941 346H938V350H941ZM971 370V366H968V370ZM975 373H968V380H965V383H975V380H978V376H975ZM981 390V383H975V390ZM991 613V600H981V603H975V613ZM968 606H965V610H961V613H968ZM938 613H951V616H945V630H948V633H951V637H961V643H965V647H975V640H985V637H978V630H968V626H971V623H978V620H971V616H968V623H965V620H961V613H955V610H948V606H945V610H941V606H935V610H938ZM998 643V640H1001V637H1008V630H1011V640H1008V647H1021V660H1018V663H1015V670H1018V673H1015V680H1018V687H1021V683H1031V670H1035V667H1031V663H1035V653H1031V647H1035V643H1038V640H1041V643H1045V647H1048V643H1055V640H1051V637H1055V623H1051V626H1048V630H1038V637H1031V633H1025V637H1021V630H1018V626H1015V620H1008V626H1001V630H995V633H991V643ZM1021 643H1025V647H1021ZM935 750H931V753H935ZM928 797V787H918V800H921V797ZM931 810V803H935V800H938V797H928V800H921V810ZM981 850H985V847H978V840H965V847H975V853H981ZM1005 840V847H1008V840ZM1001 870H995V867H985V870H981V873H978V877H1001ZM1011 880V883H1015V877H1008V880ZM955 977H958V974H961V953H955V963H945V970H955ZM981 967V970H985V963H978V967ZM921 1070H918V1074H921ZM1005 1084H998V1087H1005ZM978 1104H975V1107H978ZM1001 1104H998V1107H988V1110H985V1114H1001ZM958 1130H941V1134H958ZM1065 343V353H1068V360H1055V356H1051V360H1048V373H1058V370H1075V373H1078V376H1081V383H1085V390H1088V400H1091V390H1095V400H1101V393H1115V390H1121V376H1118V370H1115V366H1108V363H1105V360H1098V343H1085V336H1088V333H1081V330H1078V333H1071V336H1068V343ZM1108 383H1115V386H1108ZM1048 336V333H1045V336ZM1048 483H1045V490H1048ZM1041 483H1038V486H1041ZM1061 513V520H1055V530H1061V540H1055V543H1068V550H1071V553H1075V550H1085V553H1098V550H1095V543H1101V536H1108V523H1101V516H1095V520H1091V516H1088V510H1085V503H1068V496H1055V503H1061V506H1065V510H1071V513ZM1098 510H1095V513H1098ZM1101 553H1098V556H1101ZM1085 566V560H1071V566ZM1068 620H1078V613H1071V616H1068ZM1058 620V616H1055V620ZM1078 630V623H1065V620H1061V630H1065V633H1071V630ZM1038 687V683H1031V687ZM1025 713V693H1021V707H1015V710H1021V713ZM1041 760H1038V763H1041ZM1031 837H1025V840H1031ZM1035 880H1031V883H1035ZM1128 383V393H1125V400H1128V406H1125V413H1135V406H1141V410H1151V413H1155V406H1151V393H1162V390H1155V376H1168V370H1178V366H1182V356H1178V360H1158V363H1141V370H1131V383ZM1135 383V393H1131V383ZM1151 433H1148V436H1151ZM1158 433H1155V436H1158ZM1168 483V476H1165V483ZM1121 533V550H1135V560H1141V563H1145V560H1151V556H1155V563H1158V566H1155V576H1158V580H1165V583H1168V570H1165V566H1168V556H1165V550H1168V536H1172V530H1165V533H1162V536H1145V533H1141V526H1121V530H1118V533ZM1131 573H1135V563H1131V553H1128V556H1121V560H1128V566H1131ZM1118 563H1115V566H1121V560H1118ZM1095 583H1121V576H1128V573H1108V570H1105V566H1101V570H1098V580H1095ZM1108 580V576H1115V580ZM1145 867H1141V870H1145ZM1165 873H1162V877H1165ZM1198 390V373H1195V376H1192V390ZM1205 383V390H1202V393H1205V400H1212V403H1215V406H1222V383H1218V380H1215V390H1208V383ZM1235 426V420H1232V430H1225V446H1228V456H1238V463H1255V456H1268V446H1275V440H1272V436H1268V433H1262V440H1258V450H1255V443H1252V440H1255V433H1242V430H1238V426ZM1238 463H1235V466H1238ZM1192 496V490H1185V496ZM1208 503V510H1215V503ZM1188 523H1192V530H1202V523H1195V516H1192V510H1188V503H1185V506H1182V510H1185V516H1188ZM1185 526H1175V530H1185ZM1195 536H1192V540H1195ZM1238 583V590H1245V583ZM1272 596V590H1268V596ZM1242 600H1245V596H1242ZM1248 610V613H1258V610H1262V606H1252V603H1248V600H1245V610ZM1208 606V603H1205V606ZM1248 623V620H1245V623ZM1238 620H1235V623H1238ZM1232 653H1225V657H1232ZM1238 773H1232V777H1238ZM1262 783H1268V777H1262ZM1272 783H1275V787H1282V783H1278V777H1272ZM1272 800V787H1268V797H1262V800ZM1255 793V787H1252V793ZM1225 867V860H1222V867ZM1215 873H1208V883H1218V880H1225V883H1232V880H1235V877H1238V870H1242V867H1232V870H1228V867H1225V870H1215ZM1202 867H1198V870H1202ZM1208 900V883H1205V887H1198V890H1192V893H1195V897H1198V900ZM1278 436H1275V440H1278ZM1338 466H1342V473H1352V466H1355V463H1352V460H1355V456H1348V450H1328V446H1325V456H1332V463H1338ZM1282 450V446H1278V450ZM1288 463V450H1285V463ZM1332 463H1325V466H1322V473H1335V466H1332ZM1308 476V483H1318V480H1312V476ZM1308 526H1312V520H1308ZM1335 526H1342V520H1335ZM1325 583V600H1348V596H1355V600H1358V590H1348V583H1342V590H1332V583ZM1332 593H1328V590H1332ZM1285 603V613H1295V603ZM1282 606V603H1278V606ZM1312 633V620H1308V613H1302V623H1305V626H1308V633ZM1302 650H1298V653H1302ZM1292 713H1295V717H1312V723H1318V717H1315V707H1312V703H1315V700H1308V697H1305V693H1302V697H1295V700H1288V710H1292ZM1345 717V713H1342V717ZM1342 720V717H1332V727H1335V723H1338V720ZM1358 723H1355V727H1358ZM1352 763H1348V767H1352ZM1332 773V783H1335V773ZM1285 777V783H1288V777ZM1285 800H1278V803H1285ZM1308 833H1305V837H1312V840H1318V827H1338V820H1332V813H1318V820H1312V830H1308ZM1315 967V960H1318V953H1312V957H1308V970H1312V967ZM1478 386V400H1468V403H1458V410H1432V403H1425V410H1402V416H1392V420H1382V430H1378V433H1382V436H1385V440H1388V433H1408V436H1405V440H1415V443H1418V450H1425V456H1428V460H1432V463H1435V473H1432V470H1428V466H1425V463H1418V466H1422V470H1425V473H1428V486H1435V496H1428V500H1432V503H1452V496H1458V493H1462V486H1458V483H1452V466H1462V463H1468V460H1478V456H1482V460H1489V456H1495V463H1502V470H1505V473H1509V470H1519V466H1525V460H1532V450H1542V440H1535V436H1532V440H1529V443H1525V440H1522V436H1525V433H1532V430H1529V420H1525V410H1522V400H1509V390H1505V393H1502V390H1499V386H1489V383H1482V386ZM1482 433V410H1505V413H1502V426H1495V430H1489V433ZM1435 433V440H1428V436H1425V433H1428V430H1432V433ZM1388 426V430H1385V426ZM1482 463H1478V466H1482ZM1398 493V490H1395V493ZM1452 506H1448V510H1452ZM1442 550H1435V553H1442ZM1385 566H1388V563H1392V566H1395V556H1382V573H1388V570H1385ZM1472 717H1478V713H1482V710H1478V703H1472V700H1462V717H1468V713H1472ZM1402 717H1405V713H1402ZM1398 723H1402V717H1398ZM1415 723V717H1405V720H1408V723ZM1452 737V750H1462V757H1452V763H1445V753H1442V763H1438V767H1442V773H1438V777H1445V783H1462V773H1468V747H1462V740H1458V737ZM1388 763V773H1395V783H1398V787H1402V797H1405V783H1428V777H1435V773H1428V753H1422V750H1418V747H1398V763ZM1382 750V747H1378V750ZM1462 807H1468V800H1472V797H1478V793H1482V797H1489V787H1482V783H1478V787H1462ZM1478 820H1482V813H1478ZM1478 927V933H1482V927ZM1462 1010V1017H1468V1010H1472V1004H1478V1000H1472V994H1478V990H1462V1007H1458V1010ZM1452 1007H1448V1010H1452ZM1422 1070V1080H1432V1077H1435V1074H1428V1067H1425V1070ZM1458 1090V1087H1452V1090ZM1448 1097H1452V1094H1448ZM1448 1097H1445V1100H1448ZM1472 1114V1110H1468V1104H1462V1097H1458V1104H1452V1107H1448V1110H1452V1114ZM1415 1104H1412V1107H1415ZM1495 1134V1130H1499V1124H1495V1114H1502V1100H1495V1104H1482V1110H1478V1114H1482V1134ZM1549 353V360H1555V366H1565V360H1572V356H1575V350H1572V343H1565V340H1555V343H1549V340H1545V346H1552V353ZM1602 350H1605V343H1609V340H1599V343H1595V353H1602ZM1589 343H1579V346H1589ZM1575 350H1579V346H1575ZM1549 376H1559V373H1552V370H1549ZM1615 373V366H1612V370H1609V373ZM1575 433H1595V430H1589V426H1575ZM1549 440H1545V443H1549ZM1552 463V460H1559V456H1549V463ZM1605 456V470H1609V466H1612V463H1622V460H1625V456H1619V460H1612V456ZM1589 470V460H1585V463H1582V470ZM1519 480V486H1529V480H1532V473H1529V470H1525V473H1522V470H1519V476H1515V480ZM1592 486H1595V480H1589V473H1585V480H1582V483H1589V490H1592ZM1509 493V486H1495V493H1499V496H1502V493ZM1525 503H1519V506H1525ZM1522 513V510H1519V513ZM1549 536V530H1542V536ZM1589 536V533H1582V536ZM1582 543H1579V546H1582ZM1595 550H1599V543H1595ZM1592 546H1589V550H1592ZM1582 643H1579V647H1582ZM1532 663V667H1529V680H1535V687H1532V700H1542V693H1549V683H1545V680H1542V667H1539V663ZM1502 673H1495V677H1502ZM1495 730H1489V733H1495ZM1482 933V947H1502V940H1505V933H1509V927H1512V920H1482V927H1489V933ZM1482 1087V1094H1489V1097H1499V1094H1502V1080H1489V1087ZM1539 1167V1164H1535V1167ZM1552 1170V1164H1549V1170ZM1622 413V410H1619V413ZM1675 620H1669V623H1675ZM1669 637V643H1672V647H1675V637ZM1629 657H1625V660H1629ZM1669 1190H1665V1194H1669ZM1635 1214H1645V1217H1649V1224H1652V1227H1655V1234H1662V1237H1665V1234H1669V1237H1672V1244H1679V1247H1682V1250H1709V1247H1719V1240H1722V1237H1729V1234H1732V1240H1749V1244H1752V1247H1755V1250H1762V1254H1772V1250H1775V1247H1782V1244H1785V1240H1789V1234H1792V1227H1795V1224H1799V1220H1805V1217H1815V1210H1826V1204H1836V1197H1842V1194H1846V1190H1849V1187H1856V1180H1866V1177H1869V1174H1872V1170H1876V1167H1879V1160H1886V1167H1889V1164H1906V1157H1912V1154H1916V1150H1919V1144H1922V1140H1926V1130H1929V1124H1932V1110H1936V1107H1939V1104H1946V1097H1932V1090H1936V1084H1939V1080H1936V1077H1932V1074H1926V1070H1922V1074H1912V1077H1909V1080H1906V1090H1912V1094H1916V1097H1912V1104H1909V1107H1906V1104H1899V1090H1892V1087H1889V1090H1886V1097H1896V1100H1892V1107H1899V1130H1896V1140H1892V1144H1889V1147H1882V1150H1879V1154H1876V1157H1869V1164H1866V1154H1869V1147H1856V1154H1852V1164H1849V1167H1846V1170H1839V1174H1829V1177H1819V1180H1809V1174H1805V1170H1795V1167H1792V1164H1789V1170H1785V1160H1782V1157H1775V1150H1772V1147H1762V1150H1765V1154H1769V1170H1762V1174H1755V1180H1759V1194H1762V1204H1759V1207H1745V1204H1742V1197H1739V1194H1742V1190H1745V1187H1739V1184H1742V1180H1752V1174H1745V1170H1739V1180H1732V1187H1725V1190H1722V1197H1719V1200H1722V1204H1715V1210H1705V1197H1699V1194H1695V1197H1685V1194H1672V1197H1669V1200H1662V1197H1659V1194H1652V1200H1645V1204H1639V1207H1635ZM1769 1210V1217H1765V1210ZM1682 450V456H1685V446H1679V450ZM1752 463V456H1749V463ZM1755 480H1752V483H1755ZM1709 630H1705V633H1709ZM1685 690V683H1682V690ZM1709 913V923H1715V913ZM1755 937H1752V940H1755ZM1685 977H1682V980H1685ZM1749 987V984H1745V987ZM1715 987V994H1719V997H1725V994H1729V987ZM1735 1114H1739V1107H1732V1110H1735ZM1732 1124V1120H1729V1124ZM1702 1190V1187H1699V1190ZM1752 470H1749V473H1752V476H1755V480H1762V486H1769V480H1772V476H1769V473H1762V466H1759V463H1755V466H1752ZM1772 473V463H1769V473ZM1779 483V473H1775V480H1772V486H1775V483ZM1849 546H1846V550H1849ZM1839 546V550H1836V553H1842V546ZM1785 840H1779V843H1785ZM1805 893H1809V897H1789V893H1785V907H1782V913H1779V923H1782V927H1785V937H1792V927H1795V933H1809V940H1815V953H1826V947H1839V940H1842V933H1846V913H1842V907H1846V893H1836V890H1826V893H1819V887H1815V890H1805ZM1839 933H1836V930H1839ZM1805 913H1815V923H1805ZM1859 897V893H1856V897ZM1866 893V897H1869V900H1882V893ZM1755 913V923H1765V913ZM1886 937H1882V940H1886ZM1842 977V990H1839V997H1849V1010H1859V1024H1856V1030H1849V1037H1842V1040H1839V1044H1846V1050H1862V1047H1882V1040H1889V1044H1899V1040H1909V1047H1916V1017H1929V1024H1932V1030H1929V1040H1932V1047H1922V1050H1939V1057H1932V1067H1939V1074H1942V1080H1946V1097H1949V1084H1956V1074H1959V1067H1956V1060H1959V1054H1962V1044H1966V1034H1969V1030H1972V1027H1976V1024H1972V1017H1979V1014H1986V1017H1996V1020H2006V1024H2012V1027H2016V1024H2019V1027H2022V1030H2026V1027H2032V1034H2042V1037H2049V1040H2052V1044H2059V1047H2066V1050H2069V1054H2076V1057H2082V1060H2089V1064H2096V1057H2099V1064H2136V1067H2139V1070H2146V1074H2153V1080H2156V1084H2159V1087H2166V1090H2193V1094H2223V1097H2263V1094H2279V1090H2296V1087H2313V1084H2316V1074H2313V1054H2306V1044H2303V1034H2306V1007H2313V1004H2316V987H2313V984H2309V980H2313V970H2309V957H2306V950H2303V947H2299V943H2296V940H2293V937H2289V933H2286V930H2279V910H2249V913H2243V917H2239V920H2233V923H2229V927H2226V923H2193V927H2189V923H2179V927H2169V923H2166V927H2139V923H2129V927H2126V930H2119V933H2112V930H2109V937H2112V940H2109V943H2106V947H2096V950H2076V957H2066V953H2059V950H2056V943H2049V940H2046V943H2042V940H2036V937H2032V940H2012V943H2002V933H1999V930H1989V927H1979V923H1972V920H1969V917H1962V913H1959V910H1956V907H1952V903H1949V900H1942V897H1916V893H1889V897H1892V907H1899V913H1896V927H1899V933H1906V947H1909V953H1906V957H1899V963H1909V974H1906V977H1899V987H1882V997H1876V990H1879V987H1866V984H1859V977H1862V974H1866V970H1852V963H1846V970H1842V974H1839V977ZM1902 987V984H1909V977H1912V970H1916V963H1932V970H1929V977H1922V987H1919V990H1922V997H1919V1004H1906V1010H1899V997H1896V990H1899V987ZM1876 1010H1882V1007H1886V1017H1879V1014H1876ZM1859 1030H1862V1037H1859ZM1942 974V977H1939V974ZM2256 997V1004H2249V997ZM2256 994H2246V987H2256ZM2126 1040V1047H2119V1040ZM1819 1074H1815V1087H1819ZM1815 1087H1809V1090H1815ZM2303 923H2306V913H2309V917H2313V920H2319V907H2299V910H2289V913H2293V917H2303ZM2303 913V910H2306V913ZM2313 930H2309V940H2313ZM2353 930H2349V933H2353ZM2346 940V937H2343V940ZM2319 953V963H2313V970H2326V974H2329V977H2339V970H2336V960H2349V963H2363V953H2359V950H2353V943H2346V947H2343V940H2329V943H2326V953Z"/>
<path fill="#74c6c1" d="M271 613V623H284V630H291V637H294V647H297V650H301V647H304V650H307V647H317V630H314V626H311V623H301V606H294V610H287V606H281V610H274V613ZM284 653H281V650H277V647H274V653H277V657H281V660H284ZM317 653H324V663H331V660H337V657H354V653H341V647H331V650H327V647H317ZM351 690V683H347V693H354V690ZM337 703V707H347V703H351V700H341V687H334V697H337V700H334V703ZM314 837H317V847H321V840H334V837H327V833H324V830H317V823H304V840H314ZM304 910V907H301V910ZM267 917V913H257V910H251V913H247V917H251V923H261V917ZM307 970H301V967H297V970H294V974H297V977H304V974H307ZM407 1004H411V1000H424V1004H427V987H421V990H411V980H401V987H394V994H387V1004H377V1014H384V1017H387V1020H377V1024H374V1027H377V1034H371V1037H374V1040H377V1057H381V1060H367V1057H361V1050H354V1057H347V1054H344V1060H357V1067H354V1074H347V1067H331V1077H327V1080H324V1084H321V1087H317V1090H294V1094H287V1100H291V1107H294V1114H301V1110H311V1107H314V1110H321V1107H324V1114H331V1107H334V1114H341V1124H337V1130H331V1134H324V1140H317V1144H314V1140H311V1144H307V1147H304V1154H301V1160H297V1164H311V1170H314V1174H317V1177H321V1180H331V1177H327V1174H331V1160H341V1164H354V1160H357V1164H361V1157H364V1164H367V1167H371V1180H357V1194H364V1197H354V1210H357V1214H367V1210H371V1214H377V1210H387V1204H394V1200H397V1204H401V1207H407V1204H414V1200H421V1194H427V1187H431V1184H437V1187H441V1194H447V1187H451V1177H457V1174H461V1164H467V1160H471V1164H484V1170H491V1174H487V1180H498V1187H501V1194H508V1170H501V1157H504V1154H501V1147H494V1144H491V1140H481V1144H477V1154H461V1150H457V1147H451V1140H461V1134H451V1110H457V1107H464V1104H467V1100H471V1097H477V1100H484V1090H491V1087H494V1084H501V1080H504V1070H501V1067H498V1060H494V1057H501V1044H508V1040H514V1037H524V1034H528V1030H534V1034H541V1030H544V1027H551V1020H548V1017H544V1014H511V1010H508V1017H501V1020H494V1027H484V1030H474V1027H451V1030H441V1034H424V1030H421V1034H411V1027H404V1020H401V1017H404V1007H407ZM307 1107V1104H311V1107ZM384 1204V1200H387V1204ZM411 1037H407V1034H411ZM404 1177V1170H421V1174H414V1180H401V1177ZM394 1060V1057H411V1060ZM354 1114H351V1107H347V1104H341V1094H347V1090H351V1094H357V1097H364V1110H367V1120H364V1124H361V1120H354ZM321 1100V1097H324V1100ZM377 1174V1170H381V1174ZM374 1170V1167H377V1170ZM371 1194V1187H377V1194H374V1197H367V1194ZM431 1180V1177H441V1180ZM361 1010V1014H364V1010ZM351 1017V1027H354V1030H364V1027H361V1014H357V1017ZM317 1074H321V1070H317ZM307 1124V1130H311V1134H324V1114H311V1120H301V1124ZM344 1214H354V1210H347V1204H341V1210H344ZM447 753H444V763H451V767H447V773H437V783H431V797H444V787H454V797H461V790H464V787H471V783H487V787H518V797H528V780H531V777H534V767H531V763H534V740H538V733H531V737H524V743H514V757H511V753H508V747H501V750H494V753H491V750H487V753H484V747H471V750H467V747H461V750H454V757H447ZM487 783V777H491V783ZM501 777H494V773H501ZM508 777V773H514V777ZM501 757H504V763H501ZM487 760V763H484V760ZM451 797V803H467V800H454V797ZM484 1174V1170H477V1174ZM451 1234V1240H461V1244H477V1234H484V1224H481V1220H477V1224H471V1234ZM471 1224V1220H467V1224ZM487 1237V1234H484V1237ZM494 1237V1234H491V1237ZM447 1244V1247H451V1240H437V1244ZM494 1254V1244H487V1247H484V1254ZM718 456H721V453H718ZM718 496H721V476H724V480H728V486H734V473H731V460H728V470H721V473H718V480H711V483H714V486H718ZM681 560V563H684V556H688V553H691V550H694V546H688V550H678V553H674V560ZM554 556V560H558V556H561V553H548V556ZM694 563H691V566H698V560H694ZM688 566V563H684V566ZM684 580V576H681V580ZM661 703V700H654V703ZM661 710V713H658V717H664V713H668V710ZM608 783H611V777H608ZM668 800H664V820H658V823H664V837H658V830H651V840H648V847H651V850H654V853H651V857H658V850H664V847H668V853H681V837H704V840H714V853H721V860H728V857H731V860H738V837H728V833H721V823H714V817H711V813H704V810H701V807H698V800H684V793H678V797H674V783H671V797H668ZM704 823H688V820H704ZM681 810H688V813H681ZM574 787V783H571V787ZM554 797H561V793H554ZM568 800V797H564V800ZM631 797V800H628V803H634V797ZM688 853H698V850H691V847H688ZM711 857V853H708V857ZM554 853V863H558V853ZM648 863H651V860H648ZM668 873V870H664V873ZM661 873V870H658V873ZM614 907V900H611V907ZM618 917H611V913H608V923H618ZM524 994H518V997H521V1004H524V1000H528V997H524ZM684 1184H681V1187H691V1180H684ZM651 1214V1207H654V1204H651V1200H648V1214ZM638 1214V1217H644V1210H634V1204H628V1210H624V1217H634V1214ZM654 1227H651V1230H648V1234H658V1230H654ZM668 1234V1230H664V1234ZM681 1244V1230H674V1234H668V1240H674V1244ZM704 1237V1234H698V1237ZM835 386V403H831V410H821V413H811V420H835V430H838V433H845V436H848V440H845V456H848V450H855V446H865V443H868V436H871V433H875V430H871V413H875V410H881V403H875V400H868V390H865V383H858V376H848V380H841V383H838V386ZM851 440V443H848V440ZM841 436V440H845V436ZM774 443V446H778V443H784V440H768V443ZM768 456V463H774V466H778V480H761V483H758V486H748V483H741V486H738V493H734V496H744V490H761V493H764V490H768V493H778V496H788V490H794V486H801V476H804V480H811V476H814V480H818V490H824V480H831V473H835V470H828V473H824V470H818V460H821V456H818V450H794V446H788V450H784V456ZM835 480V483H838V490H841V480ZM841 496H848V493H845V490H841ZM851 496H848V506H851ZM741 503V510H744V503ZM881 566V573H875V583H881V590H888V593H898V596H901V593H905V590H915V593H925V590H928V593H931V590H938V583H935V573H928V566H935V560H941V556H931V553H935V546H928V543H938V536H941V540H945V543H955V546H951V550H955V556H961V560H968V566H978V573H985V583H991V590H998V593H1008V603H1015V596H1021V593H1025V590H1048V596H1055V606H1058V610H1061V606H1065V603H1068V596H1065V593H1068V586H1075V590H1081V593H1078V600H1071V603H1075V606H1078V613H1081V610H1085V606H1115V600H1108V596H1101V590H1085V583H1065V580H1061V576H1055V570H1051V566H1055V563H1058V560H1061V556H1055V560H1041V563H1038V566H1031V560H1028V556H1031V550H1048V546H1055V536H1048V523H1045V520H1051V510H1055V506H1051V503H1048V500H1045V493H1038V490H1035V496H1031V490H1028V476H1018V473H1015V470H1021V473H1038V476H1048V473H1055V476H1058V483H1071V496H1078V500H1085V503H1095V506H1101V510H1118V523H1121V520H1141V526H1148V530H1155V526H1158V510H1151V513H1148V510H1135V496H1141V493H1148V490H1158V483H1151V476H1141V473H1151V470H1141V440H1135V433H1141V426H1135V420H1128V413H1118V416H1115V413H1101V410H1098V406H1095V413H1071V416H1061V413H1055V410H1045V406H1038V386H1045V376H1041V373H1035V366H1045V356H1038V353H1035V350H1031V343H1025V336H1028V333H1021V336H1015V340H1008V343H1001V340H998V333H988V340H981V350H978V353H981V360H975V363H978V366H975V373H981V383H991V390H985V400H978V406H968V390H961V373H958V380H945V373H941V366H938V373H928V383H935V390H928V393H938V400H931V406H948V416H951V420H955V426H951V440H948V443H945V440H938V436H935V433H921V443H905V446H898V450H895V446H891V440H888V446H881V456H868V466H871V473H875V480H881V473H885V476H888V473H891V480H895V483H898V473H905V470H908V473H911V476H915V480H921V490H928V493H921V506H925V510H928V523H925V526H918V543H915V553H908V550H905V546H898V543H891V540H888V536H875V530H865V526H861V533H865V543H858V553H851V560H845V566H855V570H858V573H865V563H868V566ZM921 590V586H925V590ZM931 560H928V556H931ZM925 556V553H928V556ZM941 536V530H945V536ZM981 373V366H985V373ZM891 543V550H888V543ZM1035 466H1038V460H1041V470H1035ZM1101 450V446H1115V450ZM1078 450V446H1085V450ZM1051 450V446H1055V450ZM1055 446V440H1065V446ZM1065 440V433H1071V430H1078V433H1081V436H1068V440ZM1061 433V430H1065V433ZM1045 420V436H1038V430H1035V433H1021V430H1031V426H1035V420H1038V426H1041V420ZM1021 436H1018V440H1015V436H1008V440H998V433H1015V426H1018V433H1021ZM921 553H918V550H921ZM918 583H915V586H911V580H908V573H911V576H915V580H918ZM945 473H935V470H945ZM915 466V463H911V466H908V463H905V450H921V456H928V466H921V470H918V466ZM945 500H941V503H938V496H945ZM985 360V353H988V350H985V343H991V350H998V353H995V360H991V363H988V360ZM1015 373V376H1011V383H998V373ZM1031 443V450H1025V443ZM1045 443V440H1048V443ZM971 420V426H968V420ZM1005 416H1001V420H998V413H1005ZM1018 406V413H1015V406ZM961 420H958V416H955V413H965V416H961ZM985 553H981V550H985ZM975 553V543H978V553ZM978 540H981V543H978ZM1025 536V526H1031V520H1035V523H1038V526H1041V530H1038V533H1045V536H1041V540H1038V536ZM998 526H1001V536H998ZM1021 503V506H1025V510H1018V503ZM995 490H998V483H1008V490H1005V496H991V493H995ZM955 506H951V503H955ZM938 516H945V520H938ZM1031 390V400H1035V403H1031V406H1021V403H1025V400H1028V390ZM1018 566H1025V570H1018ZM1121 430V433H1118V430ZM835 610V606H831V610ZM828 616V613H824V616ZM848 606V620H858V623H865V620H868V606ZM828 620H831V616H828ZM818 630V637H814V640H811V647H818V650H828V653H824V657H821V660H811V657H818V653H804V667H801V670H788V677H801V687H794V697H801V700H804V697H811V700H818V703H821V700H824V703H828V707H835V700H851V697H845V687H851V677H848V670H851V667H855V663H858V660H865V657H868V653H871V650H878V647H881V643H865V653H845V657H841V650H838V647H841V643H845V637H838V633H835V620H831V623H828V626H821V630ZM814 667V670H811V667ZM758 647V653H761V647ZM788 710V707H784V710ZM724 870V867H718V870ZM728 877V883H738V880H731V877ZM794 933V930H788V933ZM761 1234V1230H758V1234ZM911 400V420H921V413H918V410H921V393H918V390H921V386H918V383H915V386H911V390H905V393H908V400ZM925 416H931V420H935V413H925ZM901 430H905V426H908V413H905V420H898V426H901ZM918 440V436H911V440ZM898 443H901V440H898ZM868 480V493H871V490H881V486H871V480ZM888 493H898V490H891V486H888ZM905 493H918V490H905ZM868 503V493H865V496H861V500H858V503ZM878 496H881V493H878ZM865 600V596H855V600ZM881 606V600H875V606ZM871 606V613H875V606ZM881 620H871V626H875V630H881ZM905 623V620H898V623ZM928 640H921V637H928V630H911V640H918V643H921V647H928ZM911 777V773H908V777ZM888 783H891V777H888ZM905 800V787H888V793H895V800ZM915 967V963H911V967ZM975 330H968V336H971V340H975ZM955 370H951V373H958V366H955ZM941 580H945V590H938V600H945V606H948V603H958V606H961V600H968V590H971V586H975V583H978V580H968V576H961V566H951V573H945V566H941V570H938V576H941ZM938 647V640H935V643H931V650H935V647ZM955 673V677H958V670H945V673ZM978 710H981V707H985V703H981V700H975V697H968V700H971V713H978ZM935 727V733H938V730H958V740H961V730H968V717H965V713H961V717H945V727ZM931 737H935V733H931ZM975 903V900H968V903ZM1065 393V390H1061V400H1065V403H1068V406H1078V400H1071V393ZM1031 713V723H1035V727H1038V730H1041V733H1045V730H1048V733H1051V730H1055V733H1061V730H1058V723H1061V710H1058V703H1055V700H1038V703H1035V707H1031V710H1038V713ZM1028 727H1031V723H1028ZM1048 737V733H1045V737ZM1055 753V740H1048V747H1045V753ZM1018 870V863H1015V870ZM1008 917H998V927H1005V933H1008ZM1098 323H1101V320H1098ZM1105 323H1101V326H1105ZM1078 380H1075V376H1061V383H1068V386H1071V383H1078ZM1131 383V380H1128V383ZM1151 413V420H1155V416H1158V413ZM1141 426H1148V420H1141ZM1168 446H1172V450H1168V460H1172V456H1175V460H1178V466H1172V470H1168V473H1175V470H1178V473H1185V476H1198V473H1202V466H1205V463H1208V456H1202V460H1195V463H1185V466H1182V456H1198V446H1205V443H1202V440H1195V443H1182V440H1168ZM1215 440V446H1205V450H1222V440ZM1215 460V466H1208V473H1202V476H1198V483H1212V490H1215V500H1218V503H1225V520H1232V510H1238V506H1242V503H1245V490H1248V473H1242V483H1238V466H1232V463H1228V466H1222V460ZM1118 526V523H1115V526ZM1121 550V543H1115V550ZM1115 556H1121V553H1115ZM1198 590V580H1202V570H1198V566H1192V576H1195V590ZM1178 600V596H1182V593H1185V596H1188V593H1192V586H1185V590H1175V596H1172V600ZM1115 596V593H1108V596ZM1071 610H1075V606H1071ZM1101 616V613H1098V616ZM1202 633H1195V637H1192V653H1195V660H1198V670H1202V673H1205V677H1202V683H1208V677H1218V673H1222V670H1215V647H1212V643H1208V663H1202V657H1205V653H1202V640H1205V637H1202ZM1215 683V680H1212V683ZM1198 687H1202V683H1198ZM1232 373V380H1235V383H1238V390H1245V380H1242V373H1238V366H1235V360H1232V356H1222V360H1215V366H1225V373ZM1322 393H1312V400H1305V403H1302V433H1315V436H1318V440H1325V413H1332V410H1328V400H1338V403H1348V390H1342V393H1328V390H1322ZM1318 413V410H1325V413ZM1252 416V426H1255V420H1258V406H1252V403H1248V406H1245V410H1248V416ZM1265 416V406H1262V416ZM1222 416V413H1215V416ZM1292 496V503H1302V496H1295V483H1292V490H1288V496ZM1325 500V496H1322V500ZM1262 513H1265V520H1278V503H1272V496H1255V510H1262ZM1318 523V530H1322V533H1328V526H1325V520H1318V513H1312V516H1315V523ZM1242 523H1238V530H1225V536H1202V546H1198V550H1208V553H1222V556H1235V560H1232V576H1238V583H1242V580H1255V566H1275V570H1278V550H1282V546H1285V543H1295V550H1308V546H1312V543H1308V540H1305V533H1312V530H1305V526H1288V523H1285V520H1278V526H1242ZM1332 560V556H1335V553H1338V550H1328V546H1325V560ZM1302 553V560H1308V556H1305V553ZM1225 566V573H1228V566ZM1272 576V573H1268V576ZM1262 576H1265V573H1262ZM1332 583V580H1328V583ZM1312 590V583H1302V590ZM1228 593H1232V590H1228ZM1312 606V603H1308V606ZM1248 657V653H1245V657ZM1288 777H1295V773H1288ZM1288 810H1275V820H1285V813H1288ZM1272 820V830H1278V823H1275V820ZM1332 433H1335V426H1332ZM1372 463V450H1365V456H1362V463ZM1378 460V456H1375V460ZM1385 470H1388V473H1392V476H1398V470H1402V463H1405V446H1398V456H1402V460H1398V463H1395V460H1392V456H1388V463H1382V466H1385ZM1352 496V493H1348V496ZM1338 503H1342V496H1338ZM1362 496V500H1365V506H1372V500H1368V496ZM1358 513V510H1355V513ZM1358 536H1355V543H1358V550H1355V553H1358V556H1362V553H1365V556H1372V553H1378V550H1375V540H1372V536H1378V533H1382V526H1375V516H1372V523H1365V533H1358ZM1368 536V533H1372V536ZM1348 543V530H1342V543ZM1335 570V576H1338V580H1342V583H1345V576H1348V573H1355V576H1358V586H1365V590H1372V583H1375V580H1378V576H1372V566H1362V570H1348V566H1352V560H1342V556H1338V560H1335V566H1332V570ZM1365 560V556H1362V560ZM1392 580V590H1388V593H1395V590H1402V586H1398V583H1395V580H1398V570H1395V573H1392V576H1388V580ZM1335 580V576H1332V580ZM1385 586V590H1388V586ZM1388 600V593H1385V600ZM1355 633V630H1348V640H1335V643H1338V647H1348V643H1355V650H1352V653H1348V657H1358V660H1355V663H1352V667H1348V670H1352V673H1348V677H1352V680H1348V683H1342V690H1348V700H1355V693H1362V687H1365V670H1372V667H1375V663H1372V653H1375V660H1378V650H1375V647H1372V643H1365V630H1362V633ZM1375 730V733H1372V740H1378V733H1382V730ZM1395 953H1398V950H1395ZM1388 1040V1044H1372V1057H1358V1080H1365V1087H1372V1080H1382V1087H1375V1090H1365V1100H1375V1097H1382V1094H1385V1087H1388V1090H1398V1087H1402V1080H1405V1074H1402V1067H1405V1040H1398V1037H1395V1040ZM1375 1057V1060H1372V1057ZM1385 1080V1077H1382V1074H1388V1080ZM1388 1070H1392V1074H1388ZM1375 1064V1067H1372V1064ZM1482 490H1478V486H1482V480H1468V496H1489V493H1482ZM1398 490V496H1412V493H1405V490ZM1509 500V496H1505V500ZM1489 503V500H1482V503ZM1462 526H1468V533H1475V543H1445V550H1452V546H1458V550H1475V546H1478V543H1489V546H1482V570H1478V566H1452V576H1458V580H1462V576H1468V573H1475V576H1478V573H1482V583H1478V586H1468V583H1452V600H1445V590H1405V593H1402V596H1398V600H1395V606H1398V610H1402V613H1412V623H1415V620H1422V616H1425V613H1428V616H1438V620H1442V616H1445V623H1452V620H1462V616H1468V620H1478V613H1468V603H1478V600H1489V603H1495V606H1499V610H1502V600H1505V606H1509V590H1512V586H1519V590H1535V593H1539V596H1542V593H1549V596H1552V603H1555V606H1565V613H1569V616H1572V626H1575V640H1579V637H1582V623H1589V620H1595V613H1605V603H1609V600H1612V596H1609V593H1605V586H1602V583H1595V580H1605V583H1629V560H1622V550H1619V543H1612V550H1605V566H1612V576H1609V573H1589V570H1592V566H1585V576H1569V573H1565V566H1572V560H1559V556H1562V553H1565V550H1572V546H1565V540H1559V543H1555V540H1552V536H1542V543H1539V540H1535V536H1529V530H1532V526H1525V520H1512V516H1502V513H1495V510H1489V520H1482V503H1468V510H1462ZM1452 616V603H1462V616ZM1565 606V593H1572V586H1575V583H1582V590H1589V593H1579V596H1575V600H1579V603H1582V613H1579V606ZM1559 560V570H1555V576H1549V573H1542V570H1532V566H1539V560H1542V553H1549V566H1552V560ZM1549 543V550H1542V543ZM1512 530H1515V526H1519V533H1512ZM1499 540H1495V536H1499ZM1418 546H1412V553H1405V560H1418V556H1425V550H1428V546H1432V543H1435V540H1438V533H1428V536H1422V543H1418ZM1415 556V553H1418V556ZM1432 550H1428V553H1432ZM1418 560V566H1422V560ZM1402 570V573H1412V566H1398V570ZM1509 606V613H1512V606ZM1438 717V713H1435V717ZM1428 740V733H1425V730H1422V733H1418V737H1425V740ZM1452 947V940H1468V933H1452V937H1448V940H1445V947ZM1468 950V947H1462V950ZM1445 963V970H1452V974H1462V950H1458V953H1452V960H1448V963ZM1478 957V963H1468V977H1472V970H1482V957ZM1472 980H1478V977H1472ZM1462 1044V1037H1458V1044ZM1418 1040H1415V1044H1412V1047H1408V1050H1415V1047H1418ZM1525 383V380H1522V383ZM1535 386V383H1532V386ZM1555 390V400H1559V390ZM1539 400V410H1542V420H1545V433H1552V420H1549V410H1545V400H1542V393H1539V390H1535V400ZM1575 450H1572V456H1569V460H1575ZM1542 463H1535V466H1539V470H1535V473H1542ZM1565 483H1575V470H1579V463H1572V466H1569V470H1565ZM1555 473V483H1549V486H1542V493H1549V490H1555V486H1559V480H1562V476H1559V466H1555V470H1552V473ZM1522 496V503H1525V500H1529V496ZM1582 513V510H1579V503H1572V513H1565V520H1572V516H1575V513ZM1542 520V526H1549V520ZM1575 526V523H1572V526ZM1569 536V543H1572V536ZM1525 750H1529V747H1532V737H1525V733H1522V737H1519V740H1515V753H1525ZM1519 757V773H1522V777H1529V773H1532V760H1525V757ZM1542 763V757H1539V763ZM1525 900H1522V903H1519V927H1522V923H1525V913H1532V910H1529V907H1532V903H1525ZM1525 947H1532V943H1529V940H1532V937H1529V933H1525V937H1522V933H1519V937H1515V940H1525ZM1549 940V933H1539V937H1535V943H1542V940ZM1572 1027V1040H1565V1050H1559V1044H1555V1050H1552V1057H1549V1050H1545V1054H1542V1067H1535V1074H1532V1080H1542V1084H1535V1087H1542V1110H1539V1120H1535V1124H1532V1140H1535V1144H1532V1147H1535V1154H1549V1157H1545V1160H1549V1164H1552V1160H1555V1164H1559V1157H1589V1164H1592V1167H1595V1170H1589V1184H1585V1190H1589V1187H1592V1180H1605V1187H1612V1194H1619V1197H1632V1194H1629V1184H1625V1180H1629V1174H1632V1170H1639V1164H1649V1157H1645V1154H1642V1150H1635V1147H1645V1140H1642V1134H1645V1130H1652V1124H1659V1110H1662V1114H1669V1107H1672V1094H1669V1084H1665V1080H1669V1074H1662V1064H1655V1060H1652V1057H1659V1050H1662V1044H1659V1027H1645V1020H1639V1017H1629V1010H1605V1017H1599V1020H1595V1027H1599V1030H1592V1027H1585V1030H1582V1034H1575V1027ZM1609 1097H1619V1100H1629V1107H1635V1114H1609V1110H1612V1107H1609V1104H1605V1100H1609ZM1612 1134H1629V1140H1625V1144H1612ZM1595 1134H1592V1124H1602V1130H1605V1134H1602V1140H1595ZM1619 1164H1615V1160H1619ZM1619 1147V1150H1615V1147ZM1622 1150V1154H1619V1150ZM1619 1157H1612V1154H1619ZM1612 1164V1170H1605V1164ZM1629 466H1622V473H1629V480H1635V470H1629ZM1612 483V480H1609V483ZM1605 526V520H1602V526ZM1592 526V536H1602V530H1595V526ZM1605 536H1612V540H1625V543H1629V550H1625V553H1629V556H1632V560H1635V566H1652V546H1649V543H1642V546H1639V550H1632V543H1635V540H1629V533H1619V526H1615V530H1612V526H1605ZM1575 526V533H1579V526ZM1629 530V526H1625V530ZM1632 603V600H1635V596H1622V606H1629V603ZM1622 637V640H1619V643H1629V637ZM1592 1014V1010H1589V1014ZM1792 480V506H1795V520H1799V526H1809V530H1815V526H1819V523H1826V520H1836V526H1839V530H1842V533H1849V530H1852V526H1849V520H1852V516H1856V513H1866V516H1869V510H1866V506H1862V500H1856V490H1849V493H1846V490H1842V483H1819V480H1815V476H1795V473H1792V466H1782V473H1779V480ZM1795 483V480H1799V483ZM1809 503V493H1815V503ZM1836 496H1826V493H1836ZM1819 516V520H1815V516ZM1699 490H1705V486H1699ZM1759 490V486H1755V490ZM1769 490V496H1775V493H1772V490ZM1659 500V496H1655V500ZM1856 553V550H1852V553ZM1639 590H1635V596H1642V593H1645V583H1649V580H1652V570H1649V573H1635V576H1639ZM1635 647V657H1652V647H1659V637H1655V633H1652V630H1645V633H1642V637H1649V640H1645V647ZM1639 640V637H1635V640ZM1652 667H1655V660H1652ZM1709 1014V1010H1705V1014ZM1665 1027H1669V1024H1665ZM1725 1034V1027H1722V1034ZM1685 1050V1044H1682V1050ZM1805 1057V1074H1819V1060H1815V1057ZM1705 1087V1090H1715V1074H1702V1070H1699V1084H1702V1087ZM1759 1110V1114H1755V1130H1759V1124H1762V1120H1769V1110H1772V1107H1769V1104H1762V1110ZM1675 1114V1130H1679V1134H1692V1140H1695V1134H1699V1140H1702V1134H1712V1120H1705V1124H1685V1120H1689V1114H1685V1110H1682V1114ZM1699 1164V1157H1692V1164Z"/>
<path fill="#21968d" d="M998 433V440H1008V433ZM1048 443V440H1045V443ZM1051 450H1055V446H1051ZM1115 450V446H1101V450ZM1025 570V566H1018V570Z"/>
<path fill="#fdb863" d="M1882 1007V1010H1876V1014H1879V1017H1886V1007ZM1882 1040V1047H1886V1044H1889V1040ZM2096 1057V1064H2099V1057Z"/>
</g>
<g class="tick">
<path d="M124.5 548.6H136M124.5 922.4H136M124.5 1296.3H136"/>
<path d="M716.3 1314V1325.5M1464 1314V1325.5M2211.7 1314V1325.5"/>
</g>
<g class="ax" text-anchor="end">
<text x="115" y="560.9">46°N</text>
<text x="115" y="934.7">45°N</text>
<text x="115" y="1308.6">44°N</text>
</g>
<g class="ax" text-anchor="middle">
<text x="716.3" y="1360.7">8°E</text>
<text x="1464" y="1360.7">10°E</text>
<text x="2211.7" y="1360.7">12°E</text>
</g>
<text class="lt" x="708" y="1471">&lt;--- below lower tercile</text>
<text class="lt" x="1458" y="1471">above upper tercile ---&gt;</text>
<g>
<rect x="112" y="1498" width="59" height="59" fill="#ebebeb"/>
<rect x="404" y="1498" width="59" height="59" fill="#ebebeb"/>
<rect x="669" y="1498" width="59" height="59" fill="#ebebeb"/>
<rect class="key" x="935.94" y="1498.99" width="56.64" height="56.8" fill="#fdb863"/>
<rect class="key" x="1200.94" y="1498.99" width="56.64" height="56.8" fill="#f7f7f7"/>
<rect class="key" x="1416.94" y="1498.99" width="56.64" height="56.8" fill="#d6e9d6"/>
<rect class="key" x="1681.94" y="1498.99" width="56.64" height="56.8" fill="#74c6c1"/>
<rect class="key" x="1946.94" y="1498.99" width="56.64" height="56.8" fill="#21968d"/>
<rect x="2212" y="1498" width="59" height="59" fill="#ebebeb"/>
</g>
<g class="lg">
<text x="194" y="1541.7">70-100%</text>
<text x="486" y="1541.7">60-70%</text>
<text x="751" y="1541.7">50-60%</text>
<text x="1016" y="1541.7">40-50%</text>
<text x="1281" y="1541.7">other</text>
<text x="1497" y="1541.7">40-50%</text>
<text x="1762" y="1541.7">50-60%</text>
<text x="2027" y="1541.7">60-70%</text>
<text x="2294" y="1541.7">70-100%</text>
</g>
</svg>
</body>
</html>
